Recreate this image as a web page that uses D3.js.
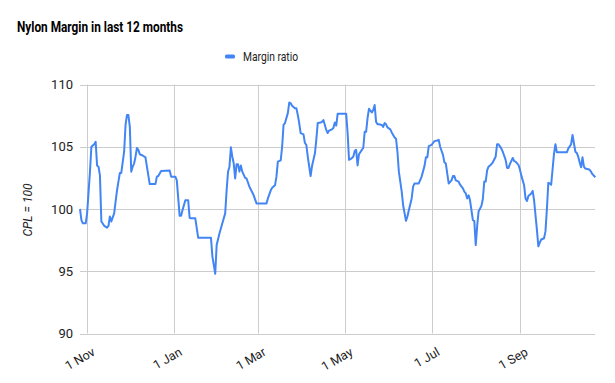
<!DOCTYPE html>
<html>
<head>
<meta charset="utf-8">
<script src="https://cdn.jsdelivr.net/npm/d3@7"></script>
<style>
  html, body { margin: 0; padding: 0; background: #fff; }
  svg { display: block; font-family: Roboto, Arial, sans-serif; }
</style>
</head>
<body>
<svg id="chart" width="615" height="383"></svg>
<script>
const title = "Nylon Margin in last 12 months";
const seriesName = "Margin ratio";
const yAxisTitle = "CPL = 100";
const yTicks = [90, 95, 100, 105, 110];
const xTickDates = ["2018-11-01", "2019-01-01", "2019-03-01", "2019-05-01", "2019-07-01", "2019-09-01"];
const xTickLabels = ["1 Nov", "1 Jan", "1 Mar", "1 May", "1 Jul", "1 Sep"];

const dates = [
  "2018-10-27","2018-10-28","2018-10-29","2018-10-31","2018-11-01","2018-11-03","2018-11-04","2018-11-06","2018-11-07","2018-11-08",
  "2018-11-09","2018-11-10","2018-11-11","2018-11-13","2018-11-15","2018-11-16","2018-11-17","2018-11-18","2018-11-20","2018-11-21",
  "2018-11-22","2018-11-23","2018-11-24","2018-11-25","2018-11-27","2018-11-28","2018-11-29","2018-11-30","2018-12-01","2018-12-02",
  "2018-12-03","2018-12-04","2018-12-05","2018-12-06","2018-12-07","2018-12-08","2018-12-10","2018-12-12","2018-12-13","2018-12-15",
  "2018-12-19","2018-12-20","2018-12-21","2018-12-23","2018-12-29","2018-12-30","2019-01-02","2019-01-03","2019-01-05","2019-01-06",
  "2019-01-07","2019-01-09","2019-01-11","2019-01-12","2019-01-13","2019-01-16","2019-01-18","2019-01-27","2019-01-28","2019-01-30",
  "2019-01-31","2019-02-02","2019-02-04","2019-02-06","2019-02-07","2019-02-08","2019-02-09","2019-02-10","2019-02-11","2019-02-12",
  "2019-02-13","2019-02-14","2019-02-15","2019-02-16","2019-02-17","2019-02-18","2019-02-20","2019-02-21","2019-02-23","2019-02-26",
  "2019-02-28","2019-03-07","2019-03-08","2019-03-10","2019-03-11","2019-03-13","2019-03-14","2019-03-15","2019-03-17","2019-03-18",
  "2019-03-19","2019-03-20","2019-03-22","2019-03-23","2019-03-24","2019-03-25","2019-03-27","2019-03-28","2019-03-29","2019-03-30",
  "2019-03-31","2019-04-02","2019-04-03","2019-04-04","2019-04-05","2019-04-07","2019-04-08","2019-04-10","2019-04-11","2019-04-12",
  "2019-04-14","2019-04-15","2019-04-16","2019-04-18","2019-04-19","2019-04-20","2019-04-22","2019-04-23","2019-04-24","2019-04-25",
  "2019-04-26","2019-05-02","2019-05-03","2019-05-04","2019-05-05","2019-05-07","2019-05-08","2019-05-09","2019-05-10","2019-05-11",
  "2019-05-13","2019-05-14","2019-05-15","2019-05-16","2019-05-17","2019-05-18","2019-05-19","2019-05-20","2019-05-21","2019-05-22",
  "2019-05-23","2019-05-24","2019-05-25","2019-05-27","2019-05-28","2019-05-29","2019-05-30","2019-05-31","2019-06-02","2019-06-03",
  "2019-06-05","2019-06-06","2019-06-07","2019-06-08","2019-06-10","2019-06-11","2019-06-13","2019-06-14","2019-06-15","2019-06-17",
  "2019-06-18","2019-06-19","2019-06-22","2019-06-24","2019-06-26","2019-06-27","2019-06-28","2019-06-29","2019-07-01","2019-07-02",
  "2019-07-03","2019-07-05","2019-07-06","2019-07-07","2019-07-09","2019-07-10","2019-07-11","2019-07-12","2019-07-13","2019-07-15",
  "2019-07-16","2019-07-17","2019-07-18","2019-07-20","2019-07-21","2019-07-23","2019-07-24","2019-07-25","2019-07-26","2019-07-27",
  "2019-07-28","2019-07-29","2019-07-30","2019-07-31","2019-08-01","2019-08-02","2019-08-03","2019-08-05","2019-08-06","2019-08-07",
  "2019-08-08","2019-08-09","2019-08-10","2019-08-12","2019-08-13","2019-08-15","2019-08-16","2019-08-17","2019-08-19","2019-08-20",
  "2019-08-22","2019-08-23","2019-08-24","2019-08-25","2019-08-27","2019-08-28","2019-08-29","2019-08-31","2019-09-01","2019-09-02",
  "2019-09-03","2019-09-04","2019-09-05","2019-09-06","2019-09-07","2019-09-09","2019-09-10","2019-09-11","2019-09-12","2019-09-13",
  "2019-09-14","2019-09-15","2019-09-16","2019-09-18","2019-09-19","2019-09-20","2019-09-21","2019-09-22","2019-09-23","2019-09-25",
  "2019-09-26","2019-09-27","2019-10-04","2019-10-05","2019-10-07","2019-10-08","2019-10-10","2019-10-11","2019-10-12","2019-10-13",
  "2019-10-14","2019-10-15","2019-10-16","2019-10-17","2019-10-19","2019-10-20","2019-10-21","2019-10-22","2019-10-24"
];
const values = [
  100.0, 99.1, 98.85, 98.85, 99.65, 103.0, 105.0, 105.2, 105.4, 103.5,
  103.4, 102.7, 99.0, 98.65, 98.5, 98.65, 99.4, 99.0, 99.65, 100.6,
  101.5, 102.2, 102.9, 102.9, 104.6, 106.75, 107.55, 107.55, 106.6, 103.0,
  103.4, 103.65, 104.2, 104.9, 104.75, 104.4, 104.3, 104.15, 103.4, 102.0,
  102.0, 102.6, 102.65, 103.05, 103.1, 102.6, 102.6, 102.3, 99.45, 99.45,
  99.9, 100.7, 100.7, 99.3, 99.25, 99.25, 97.7, 97.7, 96.2, 94.8,
  97.1, 98.05, 98.85, 99.65, 101.5, 103.0, 103.4, 104.95, 104.2, 103.65,
  102.45, 103.6, 103.6, 103.0, 103.5, 103.0, 102.5, 102.45, 101.8, 101.1,
  100.45, 100.45, 100.85, 101.5, 101.7, 101.9, 102.6, 103.8, 103.9, 105.0,
  106.75, 106.9, 107.7, 108.55, 108.5, 108.3, 108.1, 108.1, 107.55, 106.9,
  106.1, 106.0, 105.3, 105.15, 104.2, 102.65, 103.45, 104.45, 105.55, 106.9,
  106.95, 107.0, 107.15, 106.35, 106.1, 106.3, 106.4, 106.5, 106.95, 106.7,
  107.65, 107.65, 106.1, 103.95, 104.0, 104.2, 104.65, 104.75, 103.5, 104.4,
  104.75, 104.9, 106.2, 106.2, 107.3, 108.05, 107.9, 107.75, 107.95, 108.35,
  107.0, 106.8, 106.8, 106.75, 106.6, 106.9, 106.8, 106.55, 106.4, 106.15,
  105.75, 105.65, 104.6, 103.0, 101.4, 100.3, 99.05, 99.4, 99.9, 100.85,
  101.8, 102.05, 102.05, 102.6, 103.45, 104.15, 104.15, 105.05, 105.15, 105.3,
  105.45, 105.5, 105.55, 105.0, 104.35, 103.75, 103.65, 102.85, 102.05, 102.3,
  102.65, 102.65, 102.3, 102.2, 101.95, 101.65, 101.4, 101.25, 100.85, 101.1,
  100.7, 99.9, 99.1, 99.05, 97.1, 98.6, 99.8, 100.25, 100.8, 102.2,
  102.2, 103.1, 103.4, 103.6, 103.75, 104.2, 105.2, 105.2, 104.85, 104.6,
  103.95, 103.3, 103.3, 103.6, 104.1, 103.85, 103.8, 103.55, 103.2, 102.7,
  102.3, 101.9, 100.85, 100.65, 101.05, 101.25, 101.45, 100.7, 99.5, 98.3,
  97.0, 97.3, 97.55, 97.65, 98.2, 100.0, 102.1, 102.05, 101.95, 104.45,
  105.2, 104.55, 104.55, 104.85, 105.2, 105.95, 104.6, 104.5, 104.2, 103.75,
  103.35, 104.15, 103.4, 103.25, 103.2, 103.15, 103.0, 102.8, 102.55
];

const parse = d3.utcParse("%Y-%m-%d");
const data = dates.map((d, i) => ({ date: parse(d), value: values[i] }));

const svg = d3.select("#chart");
const plot = { left: 80, right: 595.3, top: 84.5, bottom: 333.5 };

const x = d3.scaleUtc()
  .domain(d3.extent(data, d => d.date))
  .range([plot.left, plot.right]);
const y = d3.scaleLinear()
  .domain([90, 110])
  .range([plot.bottom, plot.top]);

// Title
svg.append("text")
  .attr("x", 17).attr("y", 32)
  .attr("font-size", 14.5).attr("font-weight", "bold")
  .attr("fill", "#000")
  .attr("textLength", 166).attr("lengthAdjust", "spacingAndGlyphs")
  .text(title);

// Legend
svg.append("rect")
  .attr("x", 225).attr("y", 54.5).attr("width", 10).attr("height", 4)
  .attr("rx", 1.5).attr("fill", "#4285f4");
svg.append("text")
  .attr("x", 243).attr("y", 61)
  .attr("font-size", 13).attr("fill", "#222")
  .attr("textLength", 55).attr("lengthAdjust", "spacingAndGlyphs")
  .text(seriesName);

// Horizontal gridlines + y labels
const yAxis = d3.axisLeft(y).tickValues(yTicks).tickSize(-(plot.right - plot.left)).tickPadding(7);
const gy = svg.append("g").attr("transform", `translate(${plot.left},0)`).call(yAxis);
gy.select(".domain").remove();
gy.selectAll(".tick line").attr("stroke", "#cccccc").attr("shape-rendering", "crispEdges");
gy.selectAll(".tick text").attr("font-size", 13).attr("fill", "#222").attr("font-family", "Roboto, Arial, sans-serif");

// Vertical gridlines
const xDates = xTickDates.map(parse);
svg.append("g").selectAll("line").data(xDates).join("line")
  .attr("x1", d => Math.round(x(d)) + 0.5).attr("x2", d => Math.round(x(d)) + 0.5)
  .attr("y1", plot.top).attr("y2", plot.bottom)
  .attr("stroke", "#cccccc");

// X labels
svg.append("g").selectAll("text").data(xDates).join("text")
  .attr("transform", d => `translate(${x(d) + 9},354.5) rotate(-30)`)
  .attr("text-anchor", "end")
  .attr("font-size", 12.5).attr("fill", "#222")
  .text((d, i) => xTickLabels[i]);

// Y axis title
svg.append("text")
  .attr("transform", `translate(31.5,210) rotate(-90)`)
  .attr("text-anchor", "middle")
  .attr("font-size", 12).attr("font-style", "italic").attr("fill", "#222")
  .text(yAxisTitle);

// Line
const line = d3.line().x(d => x(d.date)).y(d => y(d.value));
svg.append("path")
  .datum(data)
  .attr("fill", "none")
  .attr("stroke", "#4285f4")
  .attr("stroke-width", 2)
  .attr("stroke-linejoin", "round")
  .attr("d", line);
</script>
</body>
</html>
